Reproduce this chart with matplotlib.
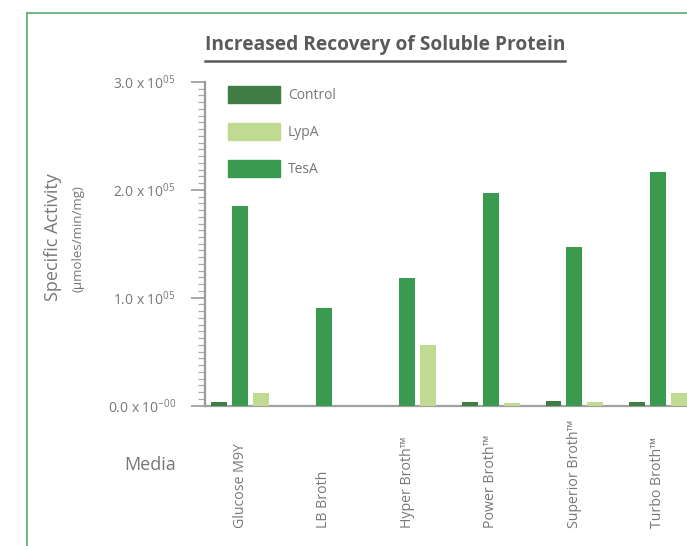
import numpy as np
import matplotlib as mpl
mpl.use('Agg')
import matplotlib.pyplot as plt
from matplotlib.patches import Patch
from matplotlib.ticker import FixedLocator, MultipleLocator
from matplotlib.lines import Line2D
from matplotlib.transforms import blended_transform_factory

plt.rcParams['font.family'] = ['Open Sans', 'DejaVu Sans']

# ------------------------------------------------------------------
# Data (specific activity, umoles/min/mg)
# ------------------------------------------------------------------
media = ["Glucose M9Y", "LB Broth", "Hyper Broth\u2122", "Power Broth\u2122",
         "Superior Broth\u2122", "Turbo Broth\u2122"]
control = [0.03e5, 0.0, 0.0, 0.03e5, 0.04e5, 0.03e5]
tesa = [1.85e5, 0.90e5, 1.18e5, 1.97e5, 1.47e5, 2.17e5]
lypa = [0.12e5, 0.0, 0.56e5, 0.02e5, 0.03e5, 0.12e5]
ytick_vals = [0.0, 1.0e5, 2.0e5, 3.0e5]
ytick_labels = ["0.0 x 10$^{\\mathregular{-00}}$", "1.0 x 10$^{\\mathregular{05}}$",
                "2.0 x 10$^{\\mathregular{05}}$", "3.0 x 10$^{\\mathregular{05}}$"]

C_CTRL = "#3f7d45"
C_LYPA = "#c0da92"
C_TESA = "#3a9a50"
C_TXT = "#777777"
C_FRAME = "#62b274"

W, H = 687, 546
fig = plt.figure(figsize=(W / 100, H / 100), dpi=100)

# axes: left edge 205px, zero at 405.5px, 3.0e5 at 82px
ax = fig.add_axes([205 / W, (H - 405.5) / H, 1 - 205 / W, (405.5 - 82) / H])

x = np.arange(len(media))
bw, off = 0.19, 0.25
ax.bar(x - off, control, width=bw, color=C_CTRL, zorder=3)
ax.bar(x, tesa, width=bw, color=C_TESA, zorder=3)
ax.bar(x + off, lypa, width=bw, color=C_LYPA, zorder=3)

ax.set_xlim(-0.419, 5.347)
ax.set_ylim(0, 3.0e5)

for s in ["top", "right"]:
    ax.spines[s].set_visible(False)
ax.spines["left"].set_color("#9a9a9a")
ax.spines["left"].set_linewidth(1.6)
ax.spines["bottom"].set_color("#a0a0a0")
ax.spines["bottom"].set_linewidth(1.6)

ax.yaxis.set_major_locator(FixedLocator(ytick_vals))
ax.set_yticklabels(ytick_labels, fontsize=10, color=C_TXT)
ax.yaxis.set_minor_locator(MultipleLocator(0.0625e5))
ax.tick_params(axis="y", which="major", length=10, width=1.2, color="#9a9a9a", pad=11)
ax.tick_params(axis="y", which="minor", length=5, width=0.9, color="#aaaaaa")

# category labels: rotated, text starts at a common baseline near the bottom
ax.set_xticks([])
trans = blended_transform_factory(ax.transData, fig.transFigure)
for xi, name in zip(x, media):
    ax.text(xi, 1 - 528 / H, name, rotation=90, fontsize=10.2, color=C_TXT,
            ha="center", va="bottom", transform=trans, clip_on=False)

# axis titles
fig.text(53 / W, 1 - 237 / H, "Specific Activity", rotation=90, fontsize=13,
         color=C_TXT, ha="center", va="center")
fig.text(78 / W, 1 - 239 / H, "(\u00b5moles/min/mg)", rotation=90, fontsize=9.5,
         color=C_TXT, ha="center", va="center")
fig.text(176 / W, 1 - 465 / H, "Media", fontsize=13, color=C_TXT, ha="right", va="center")

# title with underline
fig.text(205 / W, 1 - 45 / H, "Increased Recovery of Soluble Protein", fontsize=13.8,
         fontweight="bold", color="#5a5a5a", ha="left", va="center")
fig.add_artist(Line2D([205 / W, 565 / W], [1 - 61 / H, 1 - 61 / H], color="#5a5a5a", lw=1.8))

# legend
handles = [Patch(color=C_CTRL, label="Control"), Patch(color=C_LYPA, label="LypA"),
           Patch(color=C_TESA, label="TesA")]
fig.legend(handles=handles, loc="upper left", bbox_to_anchor=(222 / W, 1 - 80 / H),
           frameon=False, fontsize=10, labelcolor=C_TXT, handlelength=3.8,
           handleheight=1.5, labelspacing=1.45, handletextpad=0.55, borderaxespad=0)

# green frame lines
fig.add_artist(Line2D([27 / W, 1], [1 - 13 / H, 1 - 13 / H], color=C_FRAME, lw=1.3))
fig.add_artist(Line2D([27 / W, 27 / W], [0, 1 - 13 / H], color=C_FRAME, lw=1.3))

fig.savefig("out.png", dpi=100, facecolor="white")
plt.close(fig)
